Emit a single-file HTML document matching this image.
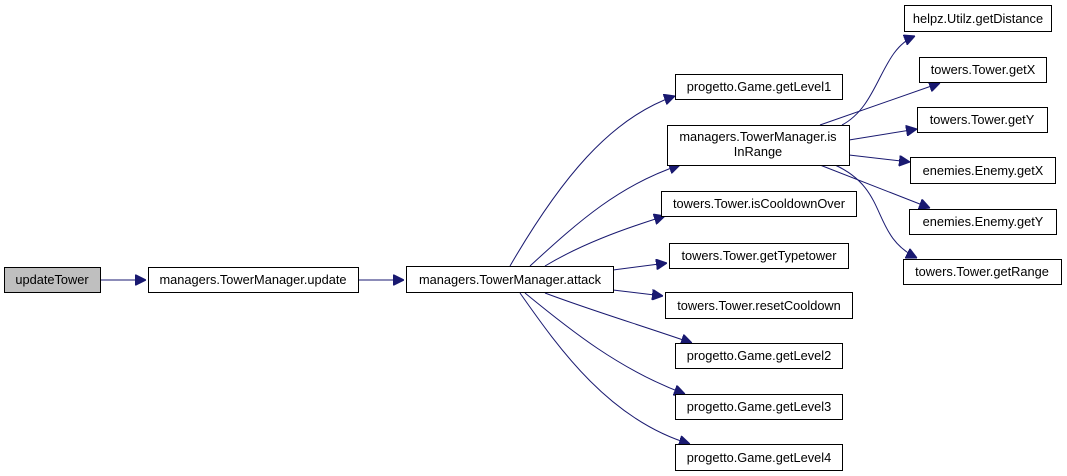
<!DOCTYPE html>
<html><head><meta charset="utf-8"><style>
html,body{margin:0;padding:0;background:#fff;width:1067px;height:476px;overflow:hidden}
svg{display:block}
text{font-family:"Liberation Sans",Arial,sans-serif;font-size:12.8px;fill:#000}
.n{fill:#fff;stroke:#000;stroke-width:1}
.e{fill:none;stroke:#191970;stroke-width:1}
</style></head><body>
<svg width="1067" height="476" viewBox="0 0 1067 476" xmlns="http://www.w3.org/2000/svg">
<defs><marker id="a" viewBox="0 0 10 10" refX="10" refY="5" markerWidth="11" markerHeight="11" markerUnits="userSpaceOnUse" orient="auto"><path d="M0,0L10,5L0,10z" fill="#191970" stroke="#191970"/></marker></defs>
<g class="e">
<path d="M100,280 L146,280" marker-end="url(#a)"/>
<path d="M358,280 L404,280" marker-end="url(#a)"/>
<path d="M510,266 C560,180 610,118 675,96" marker-end="url(#a)"/>
<path d="M530,266 C580,220 620,185 680,165" marker-end="url(#a)"/>
<path d="M545,266 C580,245 620,230 665,216" marker-end="url(#a)"/>
<path d="M613,270 L667,263" marker-end="url(#a)"/>
<path d="M613,290 L663,296" marker-end="url(#a)"/>
<path d="M545,293 C590,310 640,325 692,343" marker-end="url(#a)"/>
<path d="M525,293 C570,330 620,370 685,394" marker-end="url(#a)"/>
<path d="M520,293 C560,350 610,420 690,444" marker-end="url(#a)"/>
<path d="M842,125 C880,105 880,50 915,36" marker-end="url(#a)"/>
<path d="M820,125 L940,83" marker-end="url(#a)"/>
<path d="M849,140 L917,129" marker-end="url(#a)"/>
<path d="M849,155 L910,162" marker-end="url(#a)"/>
<path d="M820,165 L930,208" marker-end="url(#a)"/>
<path d="M835,165 C890,190 870,235 917,258" marker-end="url(#a)"/>
</g>
<rect x="4.5" y="267.5" width="96" height="25" fill="#bfbfbf" stroke="#000"/>
<text x="52" y="284" text-anchor="middle">updateTower</text>
<rect class="n" x="148.5" y="267.5" width="210" height="25"/>
<text x="253" y="284" text-anchor="middle">managers.TowerManager.update</text>
<rect class="n" x="406.5" y="266.5" width="207" height="26"/>
<text x="510" y="284" text-anchor="middle">managers.TowerManager.attack</text>
<rect class="n" x="675.5" y="74.5" width="167" height="25"/>
<text x="759" y="91" text-anchor="middle">progetto.Game.getLevel1</text>
<rect class="n" x="667.5" y="125.5" width="182" height="40"/>
<text x="758" y="141" text-anchor="middle">managers.TowerManager.is</text>
<text x="758" y="156" text-anchor="middle">InRange</text>
<rect class="n" x="661.5" y="191.5" width="195" height="25"/>
<text x="759" y="208" text-anchor="middle">towers.Tower.isCooldownOver</text>
<rect class="n" x="669.5" y="243.5" width="179" height="25"/>
<text x="759" y="260" text-anchor="middle">towers.Tower.getTypetower</text>
<rect class="n" x="665.5" y="292.5" width="187" height="26"/>
<text x="759" y="310" text-anchor="middle">towers.Tower.resetCooldown</text>
<rect class="n" x="675.5" y="343.5" width="167" height="25"/>
<text x="759" y="360" text-anchor="middle">progetto.Game.getLevel2</text>
<rect class="n" x="675.5" y="394.5" width="167" height="25"/>
<text x="759" y="411" text-anchor="middle">progetto.Game.getLevel3</text>
<rect class="n" x="675.5" y="444.5" width="167" height="26"/>
<text x="759" y="462" text-anchor="middle">progetto.Game.getLevel4</text>
<rect class="n" x="904.5" y="5.5" width="147" height="26"/>
<text x="978" y="23" text-anchor="middle">helpz.Utilz.getDistance</text>
<rect class="n" x="919.5" y="57.5" width="127" height="25"/>
<text x="983" y="74" text-anchor="middle">towers.Tower.getX</text>
<rect class="n" x="917.5" y="107.5" width="130" height="25"/>
<text x="982" y="124" text-anchor="middle">towers.Tower.getY</text>
<rect class="n" x="910.5" y="157.5" width="145" height="26"/>
<text x="983" y="175" text-anchor="middle">enemies.Enemy.getX</text>
<rect class="n" x="909.5" y="209.5" width="147" height="25"/>
<text x="983" y="226" text-anchor="middle">enemies.Enemy.getY</text>
<rect class="n" x="903.5" y="259.5" width="158" height="25"/>
<text x="982" y="276" text-anchor="middle">towers.Tower.getRange</text>
</svg>
</body></html>
